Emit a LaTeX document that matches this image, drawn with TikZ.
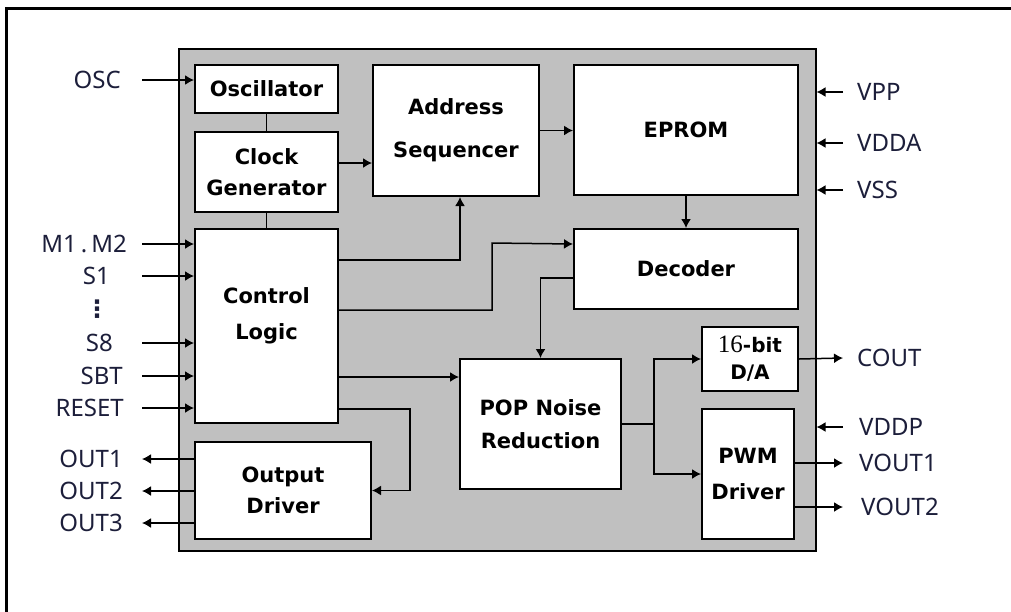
\documentclass[tikz,border=0pt]{standalone}
\usepackage{fontspec}
\setmainfont{Noto Sans}
\newfontfamily\blockfont{DejaVu Sans}
\newfontfamily\numfont{Liberation Serif}
\usetikzlibrary{arrows.meta}

\definecolor{chipgray}{RGB}{192,192,192}
\definecolor{pinblue}{RGB}{28,30,58}

\tikzset{
  block/.style={draw, fill=white, line width=2pt, anchor=north west, inner sep=0pt,
    align=center, font=\blockfont\bfseries\fontsize{21}{31}\selectfont},
  pinlabel/.style={inner sep=0pt, text=pinblue, font=\fontsize{24}{28}\selectfont},
  wire/.style={line width=1.5pt},
}

\begin{document}
\begin{tikzpicture}[x=1pt, y=-1pt, >={Latex[length=9pt,width=10pt]}]
\useasboundingbox (0,0) rectangle (1011,611);
% outer frame, only top and left edge in view
\draw[line width=3pt] (1020,8.5) -- (6.5,8.5) -- (6.5,620);

% chip body
\node[draw, fill=chipgray, line width=1.5pt, anchor=north west, inner sep=0pt,
  minimum width=637pt, minimum height=502pt] (chip) at (178,48) {};

% blocks
\node[block, minimum width=143pt, minimum height=48pt] (osc) at (194,64) {Oscillator};
\node[block, minimum width=143pt, minimum height=80pt] (clk) at (194,131) {Clock\\Generator};
\node[block, minimum width=143pt, minimum height=194pt, text depth=25pt,
  font=\blockfont\bfseries\fontsize{21}{36}\selectfont] (ctrl) at (194,228) {Control\\Logic};
\node[block, minimum width=176pt, minimum height=97pt] (outdrv) at (194,441) {Output\\Driver};
\node[block, minimum width=166pt, minimum height=131pt,
  font=\blockfont\bfseries\fontsize{21}{43}\selectfont] (addr) at (372,64) {Address\\Sequencer};
\node[block, minimum width=224pt, minimum height=130pt] (eprom) at (573,64) {EPROM};
\node[block, minimum width=224pt, minimum height=80pt] (dec) at (573,228) {Decoder};
\node[block, minimum width=161pt, minimum height=130pt,
  font=\blockfont\bfseries\fontsize{21}{33}\selectfont] (pop) at (459,358) {POP Noise\\Reduction};
\node[block, minimum width=96pt, minimum height=64pt,
  font=\blockfont\bfseries\fontsize{20}{27}\selectfont] (da) at (701,326)
  {{\numfont\mdseries\fontsize{25}{27}\selectfont 16}-bit\\D/A};
\node[block, minimum width=92pt, minimum height=130pt,
  font=\blockfont\bfseries\fontsize{21}{36}\selectfont] (pwm) at (701,408) {PWM\\Driver};

% pins
\coordinate (lefttap) at (142,0);
\coordinate (righttap) at (843,0);
\node[pinlabel, anchor=east] (oscin) at (121,80) {OSC};
\node[pinlabel, anchor=east] (m12) at (127,244) {M1\,.\,M2};
\node[pinlabel, anchor=east] (s1) at (110,276) {S1};
\node[pinlabel, font=\blockfont\bfseries\fontsize{24}{28}\selectfont] (dots) at (97,309) {⋮};
\node[pinlabel, anchor=east] (s8) at (113,343) {S8};
\node[pinlabel, anchor=east] (sbt) at (123,376) {SBT};
\node[pinlabel, anchor=east] (reset) at (124,408) {RESET};
\node[pinlabel, anchor=east] (out1) at (123,459) {OUT1};
\node[pinlabel, anchor=east] (out2) at (123,491) {OUT2};
\node[pinlabel, anchor=east] (out3) at (123,523) {OUT3};
\node[pinlabel, anchor=west] (vpp) at (857,92) {VPP};
\node[pinlabel, anchor=west] (vdda) at (857,143) {VDDA};
\node[pinlabel, anchor=west] (vss) at (857,190) {VSS};
\node[pinlabel, anchor=west] (cout) at (857,358) {COUT};
\node[pinlabel, anchor=west] (vddp) at (859,427) {VDDP};
\node[pinlabel, anchor=west] (vout1) at (859,463) {VOUT1};
\node[pinlabel, anchor=west] (vout2) at (861,507) {VOUT2};

% pin wires
\draw[wire,->] (oscin -| lefttap) -- (oscin -| osc.west);
\foreach \p in {m12,s1,s8,sbt,reset}
  \draw[wire,->] (\p -| lefttap) -- (\p -| ctrl.west);
\foreach \p in {out1,out2,out3}
  \draw[wire,->] (\p -| outdrv.west) -- (\p -| lefttap);
\foreach \p in {vpp,vdda,vss,vddp}
  \draw[wire,->] (\p -| righttap) -- (\p -| chip.east);
\draw[wire,->] (da.east) -- (cout -| righttap);
\draw[wire,->] (vout1 -| pwm.east) -- (vout1 -| righttap);
\draw[wire,->] (vout2 -| pwm.east) -- (vout2 -| righttap);

% internal wires
\draw[wire] (osc.south) -- (clk.north);
\draw[wire] (clk.south) -- (ctrl.north);
\draw[wire,->] ([yshift=9pt]clk.east) -- ([yshift=9pt]clk.east -| addr.west);
\draw[wire,->] (addr.east) -- (addr.east -| eprom.west);
\draw[wire,->] (eprom.south) -- (dec.north);
\draw[wire,->] ([yshift=-32pt]ctrl.north east) -| ([xshift=4pt]addr.south);
\draw[wire,->] ([yshift=-82pt]ctrl.north east) -| ++(153,-67) -- ([yshift=25pt]dec.west);
\draw[wire,->] ([yshift=-9pt]dec.west) -| (pop.north);
\draw[wire,->] ([yshift=-51pt]ctrl.east) -- ([yshift=-51pt]ctrl.east -| pop.west);
\draw[wire,->] ([yshift=-83pt]ctrl.east) -- ++(71,0) |- (outdrv.east);
\coordinate (split) at ([xshift=32pt]pop.east);
\draw[wire] (pop.east) -- (split);
\draw[wire,->] (split) |- (da.west);
\draw[wire,->] (split) |- (pwm.west);
\end{tikzpicture}
\end{document}
